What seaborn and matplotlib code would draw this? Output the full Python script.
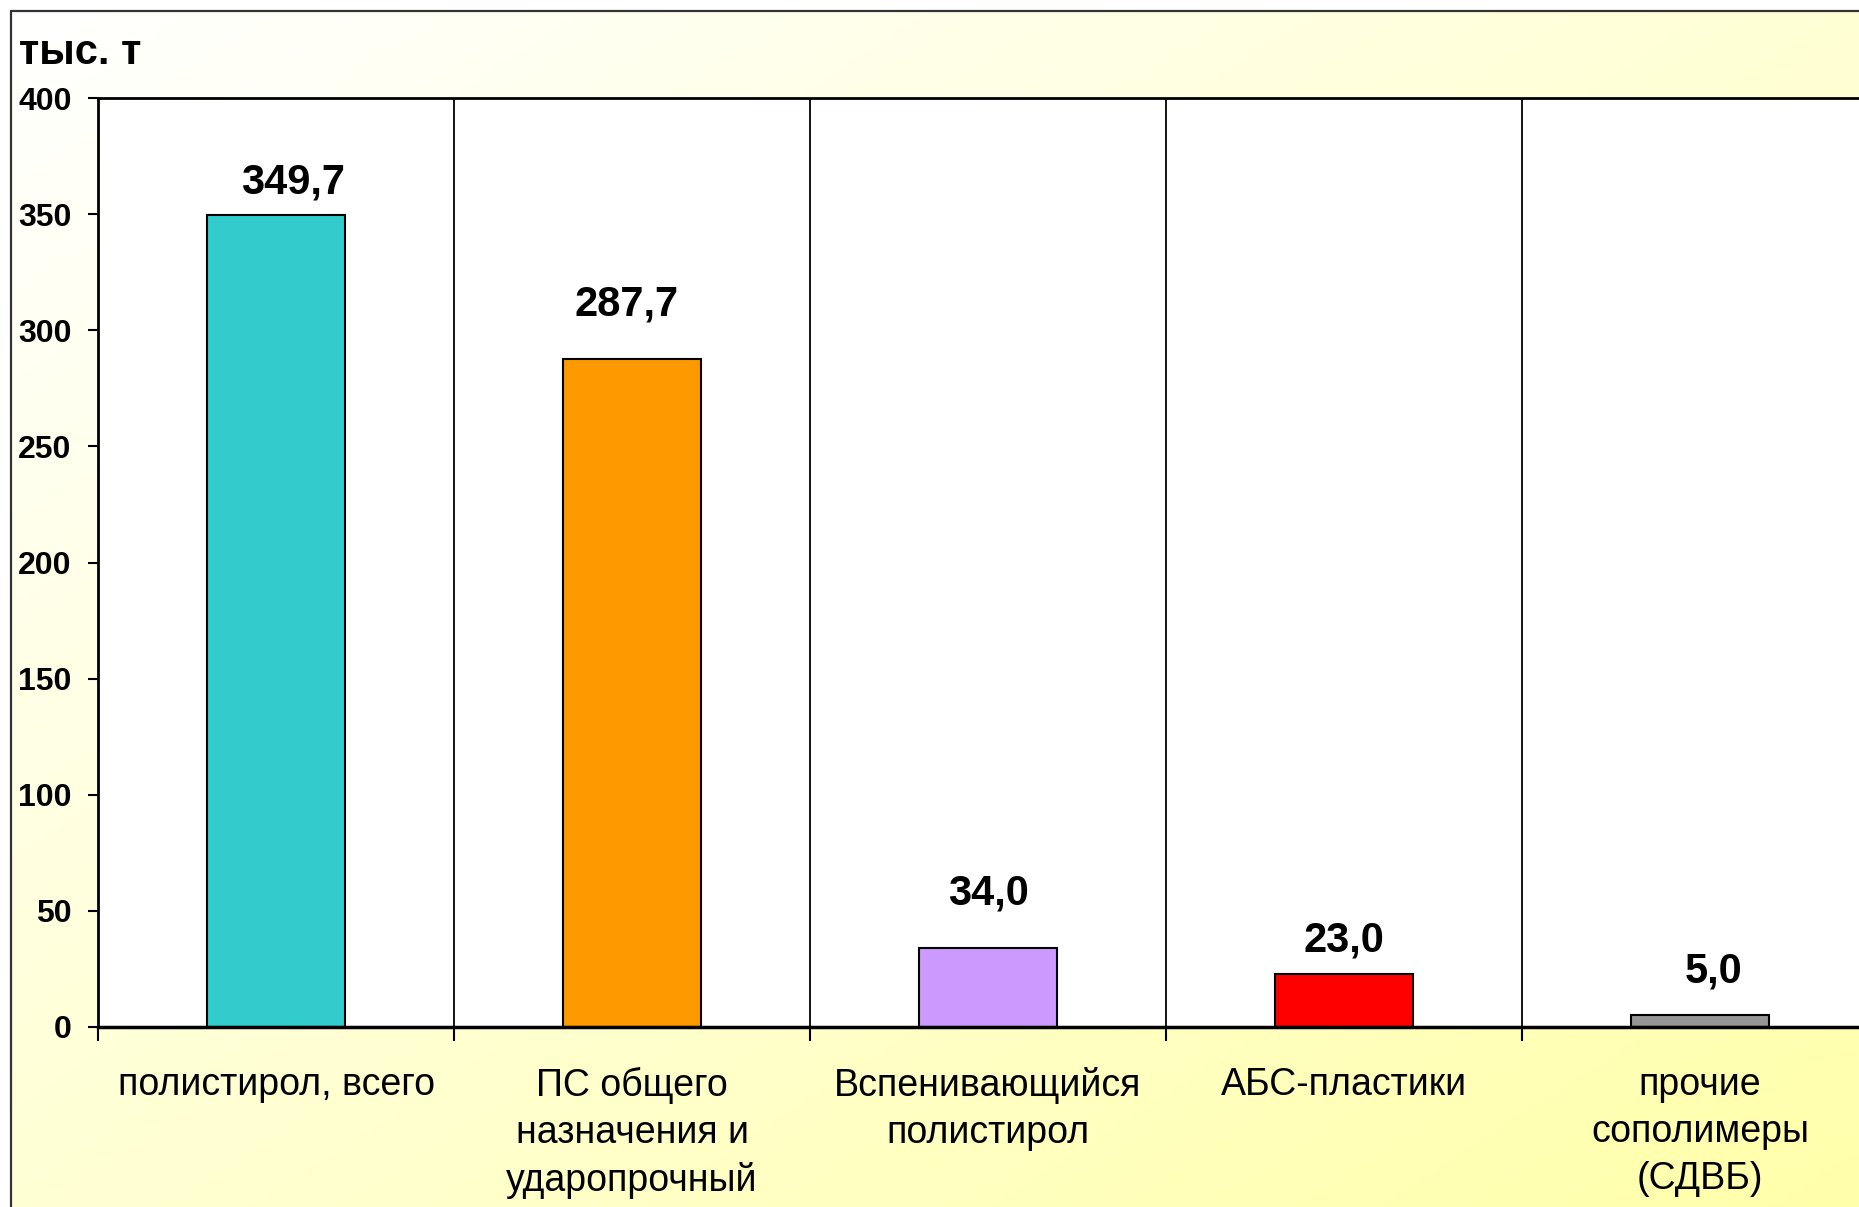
import numpy as np
import matplotlib.pyplot as plt
import matplotlib.colors as mcolors
from matplotlib.patches import Rectangle
import seaborn as sns

# data
categories = ["полистирол, всего", "ПС общего\nназначения и\nударопрочный",
              "Вспенивающийся\nполистирол", "АБС-пластики",
              "прочие\nсополимеры\n(СДВБ)"]
values = [349.7, 287.7, 34.0, 23.0, 5.0]
value_labels = ["349,7", "287,7", "34,0", "23,0", "5,0"]
bar_colors = ["#33CCCC", "#FF9900", "#CC99FF", "#FF0000", "#969696"]
y_ticks = [0, 50, 100, 150, 200, 250, 300, 350, 400]
unit = "тыс. т"

# label nudges (points) as placed in the original
label_dx = [12, -4, 0, 0, 10]
label_dy = [15, 31, 31, 16, 24]

sns.set_style("white")
plt.rcParams["font.family"] = ["Liberation Sans", "DejaVu Sans"]
plt.rcParams["text.color"] = "black"
plt.rcParams["xtick.color"] = "black"
plt.rcParams["ytick.color"] = "black"

W, H = 1859, 1207
fig = plt.figure(figsize=(W / 100, H / 100), dpi=100)

# gradient background (white top-left -> yellow bottom-right)
bg = fig.add_axes([0, 0, 1, 1], zorder=-2)
xx, yy = np.meshgrid(np.linspace(0, 1, 400), np.linspace(0, 1, 260))
t = (xx + yy) / 2
c0 = np.array(mcolors.to_rgb("#FFFFFF"))
c1 = np.array(mcolors.to_rgb("#FFFF99"))
img = c0 + (c1 - c0) * t[..., None]
bg.imshow(img, extent=[11 / W, 1.2, -0.2, 1 - 11 / H], origin="upper", aspect="auto")
bg.add_patch(Rectangle((11 / W, -0.2), 1.3, 1.2 - 11 / H, fill=False,
                       edgecolor="#333333", lw=1.6))
bg.set_xlim(0, 1)
bg.set_ylim(0, 1)
bg.axis("off")

ax = fig.add_axes([98 / W, 1 - 1027 / H, 1780 / W, 929 / H])
ax.set_facecolor("white")

sns.barplot(x=categories, y=values, hue=categories, palette=bar_colors,
            legend=False, width=0.39, edgecolor="black", linewidth=1.5,
            saturation=1, ax=ax, zorder=3)

ax.set_xlim(-0.5, 4.5)
ax.set_ylim(0, 400)
ax.set_yticks(y_ticks)
ax.set_yticklabels([str(v) for v in y_ticks], fontsize=23, fontweight="bold")
ax.tick_params(axis="y", direction="out", length=7, width=1.5, pad=12, left=True)

ax.set_xticks(range(len(categories)))
ax.set_xticklabels(categories, fontsize=27, linespacing=1.38)
ax.tick_params(axis="x", which="major", length=0, pad=29)
ax.set_xticks(np.arange(-0.5, len(categories), 1), minor=True)
ax.tick_params(axis="x", which="minor", direction="out", length=10, width=1.5,
               bottom=True)
ax.grid(axis="x", which="minor", color="black", lw=1.3, zorder=1)
ax.grid(axis="y", visible=False)

for s in ["left", "top", "bottom"]:
    ax.spines[s].set_visible(True)
    ax.spines[s].set_color("black")
    ax.spines[s].set_linewidth(2)
ax.spines["bottom"].set_linewidth(2.5)
ax.spines["bottom"].set_zorder(4)

for i, (v, lab) in enumerate(zip(values, value_labels)):
    ax.annotate(lab, (i, v), xytext=(label_dx[i], label_dy[i]),
                textcoords="offset points", ha="center", va="baseline",
                fontsize=30, fontweight="bold")

fig.text(19 / W, 1 - 53 / H, unit, fontsize=30, fontweight="bold",
         ha="left", va="center")

fig.savefig("out.png", dpi=100)
